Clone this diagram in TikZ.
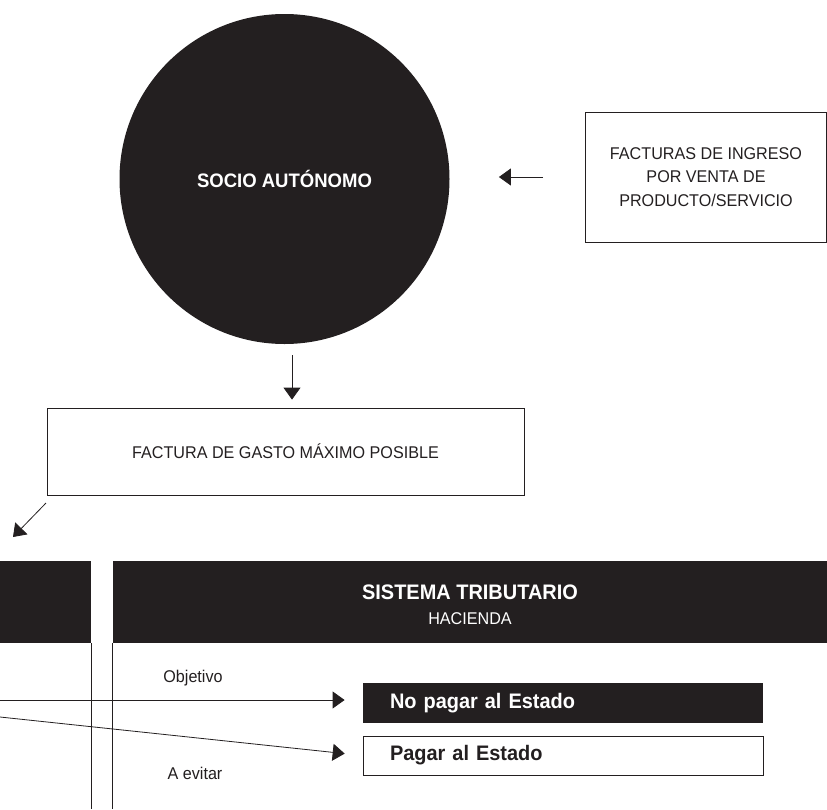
\documentclass[tikz,border=0pt]{standalone}
\usepackage{fontspec}
\setmainfont{Liberation Sans}[FakeStretch=0.95]
\usepackage{xcolor}
\usepackage{tikz}
\usetikzlibrary{arrows.meta,calc,positioning}
\definecolor{ink}{HTML}{231F20}
\definecolor{paper}{HTML}{FFFFFF}

\tikzset{
  box/.style={draw=ink, line width=0.8pt, align=center, inner sep=0pt,
    text=ink, font=\fontsize{17}{23.5}\selectfont},
  lbl/.style={text=ink, font=\fontsize{17}{20}\selectfont},
  result/.style={minimum height=40pt, text width=346pt, inner xsep=27pt,
    inner ysep=0pt, align=left, font=\fontsize{21}{24}\selectfont\bfseries},
}

\begin{document}
\begin{tikzpicture}[x=1pt, y=-1pt, line width=0.8pt, draw=ink,
    >={Triangle[length=12pt,width=17pt]}]
  \useasboundingbox (0,0) rectangle (827,809);

  % Socio and invoices
  \node[circle, fill=ink, minimum size=330pt, inner sep=0pt, text=paper,
    font=\fontsize{19.5}{22}\selectfont\bfseries] (socio) at (284.5,179) {SOCIO AUTÓNOMO};
  \node[box, minimum width=241pt, minimum height=130pt] (ingreso) at (706,177)
    {FACTURAS DE INGRESO\\POR VENTA DE\\PRODUCTO/SERVICIO};
  \node[box, minimum width=477pt, minimum height=87pt] (gasto) at (285.5,451.5)
    {FACTURA DE GASTO MÁXIMO POSIBLE};

  \draw[->, ink, shorten <=42pt, shorten >=49pt] (ingreso.west) -- (ingreso.west -| socio.east);
  \coordinate (d) at (292,355);
  \draw[->, ink, shorten >=8pt] (d) -- (d |- gasto.north);
  \coordinate (g1) at (46,503);
  \coordinate (g2) at (13,537);
  \draw[->, ink] (g1) -- (g2);

  % Panels
  \fill[ink] (0,561) rectangle (91,643) coordinate (lp);
  \draw[ink] (lp) -- (lp |- 0,809);
  \node[fill=ink, minimum width=714pt, minimum height=82pt, inner sep=0pt,
    align=center, text=paper, font=\fontsize{17}{20}\selectfont] (trib) at (470,602)
    {{\fontsize{21}{24}\selectfont\bfseries\rule{0pt}{21pt}SISTEMA TRIBUTARIO}\\[5pt]HACIENDA};
  \draw[ink] (trib.south west) -- (trib.south west |- 0,809);

  % Objetivo / A evitar
  \node[result, fill=ink, text=paper] (nopagar) at (563,703) {No pagar al Estado};
  \node[result, draw=ink, minimum height=39pt, text=ink] (pagar) at (563,755.5) {Pagar al Estado};
  \node[lbl] (obj) at (193,678) {Objetivo};
  \node[lbl] (evit) at (195,773) {A evitar};

  \coordinate (o) at (0,700);
  \coordinate (e) at (0,717);
  \draw[->, ink, shorten >=18pt] (o) -- (o -| nopagar.west);
  \draw[->, ink, shorten >=18pt] (e) -- (pagar.west);
\end{tikzpicture}
\end{document}
